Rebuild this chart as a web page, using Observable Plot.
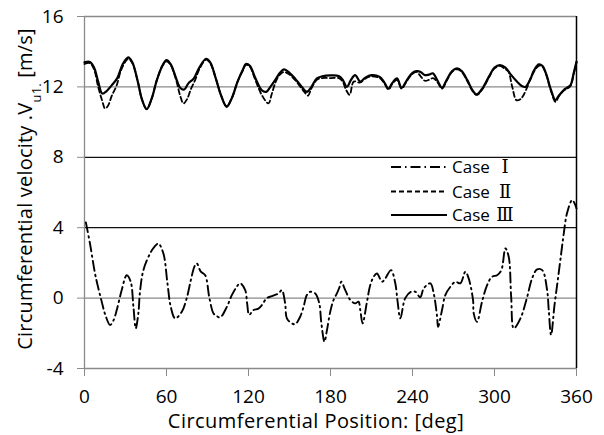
<!DOCTYPE html>
<html><head><meta charset="utf-8">
<script src="https://cdn.jsdelivr.net/npm/d3@7"></script>
<script src="https://cdn.jsdelivr.net/npm/@observablehq/plot@0.6"></script>
<style>body{margin:0;background:#fff;}</style>
</head><body><div id="chart"></div>
<script>
const xTicks = [0, 60, 120, 180, 240, 300, 360];
const yTicks = [-4, 0, 4, 8, 12, 16];
const seriesNames = ["Case", "Case", "Case"];
const seriesNumerals = ["Ⅰ", "Ⅱ", "Ⅲ"];
const xLabel = "Circumferential Position: [deg]";
const yLabelMain = "Circumferential velocity .V";
const yLabelSub = "u1.";
const yLabelUnit = " [m/s]";

// Case III (solid)
const case3Deg = [0,4,7,10,13,16,20,24,28,32,35,39,42,45.5,49,53,57,60,63,67,70,73,76,80,84,89,92,96,100,104,108,112,116,118,121,125,129.8,133,136,139.5,143,146,150,154,158,162.7,166,170,174,180,186,189,192,195,198,201.8,205,210,216,219,222.5,225,228.7,232,236,240,243,246,249,252,255,258,261.6,265,269,272.6,276,280,284,287,291,296,300,304,308,312,316.6,320,322.6,326,329,332.4,335,338,341,344.6,347,350.7,353,355.6,358,360];
const case3Vel = [13.4,13.42,13.1,12.3,11.62,11.75,12.1,12.5,13.3,13.68,13.4,12.3,11.3,10.74,11.3,12.4,13.2,13.52,13.3,12.5,11.95,11.85,12.2,12.48,13.1,13.6,13.4,12.5,11.5,10.87,11.4,12.3,13.0,13.3,13.2,12.5,11.8,11.72,12.0,12.39,12.8,13.0,12.8,12.48,12.1,11.72,12.0,12.48,12.6,12.65,12.62,12.4,12.0,12.4,12.67,12.3,12.5,12.67,12.57,12.3,11.9,12.2,12.48,11.95,12.4,12.8,12.9,12.85,12.67,12.7,12.77,12.4,11.95,12.4,12.9,13.05,12.9,12.4,11.8,11.57,11.9,12.6,13.1,13.24,13.1,12.7,12.29,12.05,12.0,12.4,12.95,13.28,13.2,12.7,11.9,11.25,11.5,11.82,11.95,12.1,12.8,13.43];

// Case II (dashed)
const case2Deg = [0,4,7,10,13,15,17,20,23.6,27,32,35,39,42,45.5,49,53,57,60,63,67,70,72.4,75,78,81,84,89,92,96,100,104,108,112,116,118,121,124,127,130,134.6,137,140,143,146,150,154,158,161,163.5,166,170,174,180,186,189,191,194,197,201.8,205,210,216,219,222.5,225,228.7,232,236,240,243,246,249,252,255,258,261.6,265,269,272.6,276,280,284,287,291,296,300,304,308,310,313,316,319,321,324,327,330,332.4,335,338,341,344.6,347,350.7,353,355.6,358,360];
const case2Vel = [13.3,13.35,13.0,12.0,11.2,10.78,10.9,11.5,12.1,13.0,13.6,13.35,12.3,11.3,10.74,11.3,12.4,13.2,13.45,13.25,12.4,11.5,11.06,11.3,11.9,12.4,13.0,13.55,13.35,12.5,11.5,10.9,11.4,12.3,12.95,13.25,13.15,12.6,12.0,11.5,11.06,11.6,12.3,12.7,12.85,12.7,12.4,12.0,11.7,11.5,11.9,12.4,12.5,12.5,12.5,12.3,11.9,11.55,12.3,12.25,12.45,12.6,12.5,12.25,11.85,12.15,12.4,11.9,12.35,12.75,12.85,12.6,12.35,12.4,12.5,12.3,11.9,12.35,12.85,13.0,12.85,12.35,11.75,11.55,11.85,12.55,13.05,13.2,13.0,12.9,12.0,11.25,11.3,11.5,12.0,12.6,13.0,13.2,13.15,12.65,11.85,11.15,11.45,11.8,11.9,12.05,12.75,13.4];

// Case I (dash-dot)
const case1Deg = [1,4,7.7,10,12.6,15,18.7,21,23.6,27.2,30.9,33.8,35.8,37.5,39.4,40.6,43.1,48,51,54,57.7,60.7,63.1,66.3,71.2,74.8,77.8,80.5,82.2,85.1,88.3,91.4,94.4,96.5,99.2,104.2,107.8,111,113.9,117.6,119,120.5,123.6,127.3,129.8,133.4,137.1,142,144.4,146.8,148.1,151.8,154.2,157.8,160.3,162.7,165.2,168.8,171.8,173.2,175.6,177.4,179.8,182.2,184.7,186.5,187.9,190.8,194.5,198.1,200.5,201.8,203.5,206.7,209.1,211.5,214,217.7,220.1,224.3,227.4,229.1,231.1,234.7,238.9,242.1,245.7,248.2,253.1,255.5,258,258.7,261.6,264,267.7,271.4,275,278.7,281.1,284.3,284.8,287.2,290.9,294.6,298.2,301.9,305,308,310.4,312.2,314.1,319,323.9,327.5,331.2,334.9,338.5,339.7,341.4,343.9,346.3,348.8,350.7,353,356.8,358.5,360];
const case1Vel = [4.3,3.1,1.4,0.6,-0.2,-0.9,-1.53,-1.3,-0.68,0.45,1.3,0.93,-0.49,-1.72,-0.87,0.36,1.59,2.54,2.9,3.1,2.54,0.84,-0.49,-1.15,-0.78,0,1.02,1.8,1.97,1.5,1.3,0,-0.87,-1.0,-1.1,-0.49,0.17,0.6,0.84,0.45,-0.3,-0.95,-0.68,-0.6,-0.4,0,0.11,0.27,0.45,-0.3,-1.15,-1.44,-1.48,-1.06,-0.49,0.17,0.36,0.27,-0.3,-1.35,-2.48,-1.82,-0.78,-0.11,0.27,0.6,0.93,0.45,-0.11,-0.3,-0.2,-0.68,-1.44,-0.2,0.74,1.2,1.4,0.93,1.12,1.59,0.84,-0.2,-1.15,0,0.36,0.36,0.05,0.55,0.84,0.27,-1.06,-1.63,-0.68,0.17,0.64,0.93,0.84,1.5,1.12,-0.11,-0.87,-1.35,-0.2,0.74,1.21,1.3,1.59,2.82,2.35,0.07,-1.72,-1.15,0.07,1.12,1.63,1.59,0.45,-0.68,-2.1,-0.4,1.02,2.54,3.68,4.8,5.57,5.4,5.1];

const rows = (xs, ys) => xs.map((x, i) => ({deg: x, vel: ys[i]}));
const case1 = rows(case1Deg, case1Vel);
const case2 = rows(case2Deg, case2Vel);
const case3 = rows(case3Deg, case3Vel);

const FONT = "'Open Sans', 'Noto Sans', sans-serif";

const chart = Plot.plot({
  width: 604, height: 435,
  marginLeft: 84, marginRight: 28, marginTop: 16, marginBottom: 67,
  style: {fontFamily: FONT, fontSize: "19px", color: "#000", background: "#fff", overflow: "visible"},
  x: {domain: [0, 360], label: null},
  y: {domain: [-4, 16], label: null},
  marks: [
    Plot.ruleY(yTicks.filter(d => d !== 8 && d !== 4), {stroke: "#8a8a8a", strokeWidth: 1.3}),
    Plot.ruleY(yTicks.filter(d => d === 8 || d === 4), {stroke: "#111", strokeWidth: 1.3}),
    Plot.ruleX([0], {stroke: "#8a8a8a", strokeWidth: 1.3}),
    Plot.ruleX([360], {stroke: "#000", strokeWidth: 1.5}),
    Plot.axisY({ticks: yTicks, tickSize: 7, tickPadding: 14, stroke: "#8a8a8a", fill: "#000", label: null, tickFormat: d => String(d)}),
    Plot.axisX({ticks: xTicks, tickSize: 8, tickPadding: 13, stroke: "#8a8a8a", fill: "#000", label: null, tickFormat: d => String(d)}),
    Plot.line(case1, {x: "deg", y: "vel", curve: "catmull-rom", stroke: "#000", strokeWidth: 1.9, strokeDasharray: "10,4,1.5,4"}),
    Plot.line(case2, {x: "deg", y: "vel", curve: "catmull-rom", stroke: "#000", strokeWidth: 1.8, strokeDasharray: "5,3"}),
    Plot.line(case3, {x: "deg", y: "vel", curve: "catmull-rom", stroke: "#000", strokeWidth: 2.2})
  ]
});

const svg = d3.select(chart);

// x axis title
svg.append("text")
  .attr("x", 316).attr("y", 428)
  .attr("text-anchor", "middle")
  .attr("font-family", FONT).attr("font-size", 20)
  .attr("letter-spacing", 0.45)
  .attr("fill", "#000")
  .text(xLabel);

// y axis title with subscript
const yt = svg.append("text")
  .attr("transform", "rotate(-90)")
  .attr("x", -189).attr("y", 32)
  .attr("text-anchor", "middle")
  .attr("font-family", FONT).attr("font-size", 20)
  .attr("letter-spacing", 0.2)
  .attr("fill", "#000");
yt.append("tspan").text(yLabelMain);
yt.append("tspan").attr("baseline-shift", "sub").attr("font-size", 13).text(yLabelSub);
yt.append("tspan").text(yLabelUnit);

// legend
const dashes = ["10,4,1.5,4", "5,3", null];
const widths = [1.9, 1.8, 2.2];
const legendRows = [167, 191.5, 215];
seriesNames.forEach((name, i) => {
  const y = legendRows[i];
  const ln = svg.append("line").attr("x1", 391).attr("x2", 447).attr("y1", y).attr("y2", y)
    .attr("stroke", "#000").attr("stroke-width", widths[i]);
  if (dashes[i]) ln.attr("stroke-dasharray", dashes[i]);
  svg.append("text").attr("x", 452).attr("y", y + 6).attr("text-anchor", "start")
    .attr("font-family", FONT).attr("font-size", 17).attr("fill", "#000").text(name);
  svg.append("text").attr("x", 505).attr("y", y + 6).attr("text-anchor", "middle")
    .attr("font-family", "'Liberation Serif', 'DejaVu Serif', 'Noto Sans CJK JP', serif")
    .attr("font-size", 18).attr("fill", "#000").text(seriesNumerals[i]);
});

document.getElementById("chart").appendChild(chart);
</script>
</body></html>
